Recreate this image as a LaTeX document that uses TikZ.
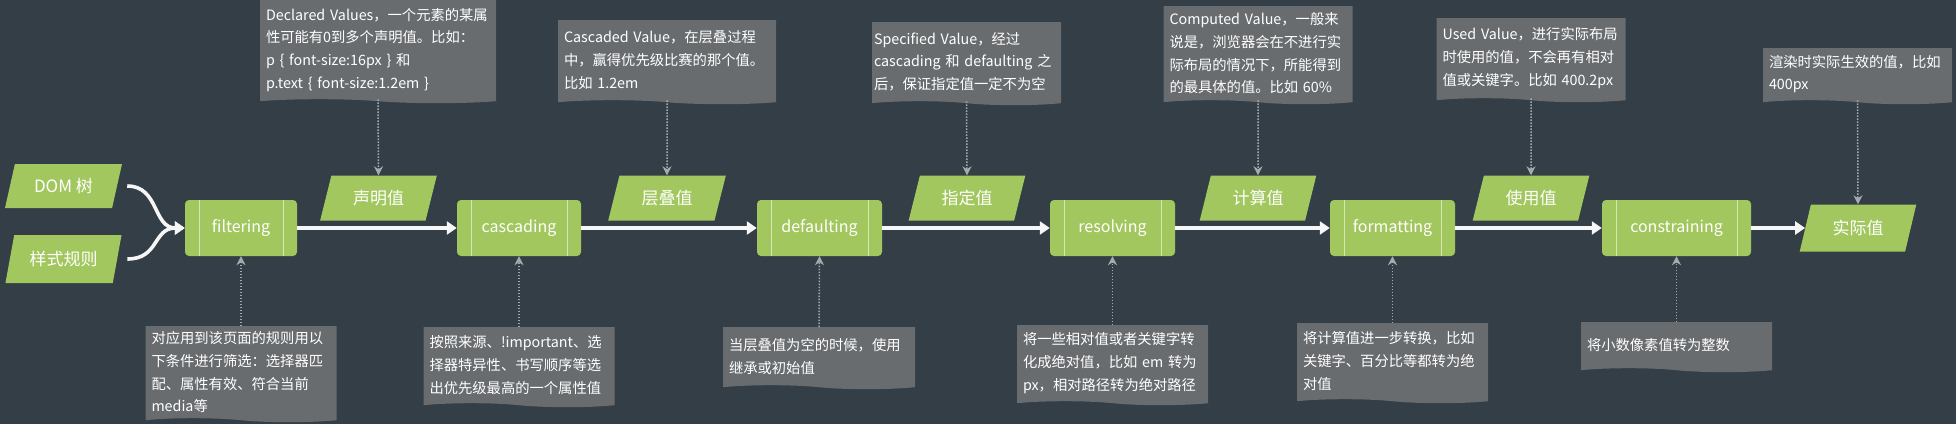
\documentclass[tikz,border=0pt]{standalone}
\usepackage{fontspec}
\setmainfont{Noto Sans CJK SC}
\usetikzlibrary{shapes.symbols,shapes.geometric,arrows.meta}
\definecolor{bg}{RGB}{51,62,71}
\definecolor{leaf}{RGB}{162,199,94}
\definecolor{note}{RGB}{105,108,111}
\definecolor{dots}{RGB}{165,170,175}
\tikzset{
  notebox/.style={shape=tape, tape bend top=none, tape bend bottom=out and in,
    tape bend height=4pt, fill=note, text=white, align=left,
    font=\fontsize{14.3}{22.7}\selectfont, inner xsep=6pt, inner ysep=3pt},
  proc/.style={rectangle, rounded corners=4pt, fill=leaf, text=white,
    font=\fontsize{16}{16}\selectfont, minimum height=56pt, inner sep=0pt,
    path picture={\draw[white!55!leaf, line width=0.8pt]
      ([xshift=14pt]path picture bounding box.north west) -- ([xshift=14pt]path picture bounding box.south west)
      ([xshift=-14pt]path picture bounding box.north east) -- ([xshift=-14pt]path picture bounding box.south east);}},
  val/.style={trapezium, trapezium left angle=69, trapezium right angle=111,
    trapezium stretches=true, fill=leaf, text=white,
    font=\fontsize{17}{17}\selectfont, minimum height=45pt, inner sep=0pt},
  flow/.style={draw=white!93!gray, line width=3.6pt, -{Triangle[length=10pt,width=13pt]}},
  hint/.style={draw=dots, line width=1.5pt, dash pattern=on 1.5pt off 1.5pt,
    -{Stealth[length=9pt,width=9pt]}}
}
\begin{document}
\begin{tikzpicture}[x=1pt,y=-1pt]
\fill[bg] (0,0) rectangle (1956,424);
\useasboundingbox (0,0) rectangle (1956,424);

% inputs
\node[val, minimum width=117pt, minimum height=44pt] (dom) at (63.5,186) {DOM 树};
\node[val, minimum width=117pt, minimum height=48pt] (css) at (63.5,259) {样式规则};

% process steps
\node[proc, minimum width=112pt] (pFilt) at (241,228) {filtering};
\node[proc, minimum width=124pt] (pCasc) at (519,228) {cascading};
\node[proc, minimum width=125pt] (pDef) at (819.5,228) {defaulting};
\node[proc, minimum width=125pt] (pRes) at (1112.5,228) {resolving};
\node[proc, minimum width=125pt] (pFmt) at (1392.5,228) {formatting};
\node[proc, minimum width=149pt] (pCon) at (1676.5,228) {constraining};

% values
\node[val, minimum width=117pt] (vDecl) at (378.5,198) {声明值};
\node[val, minimum width=118pt] (vCasc) at (667,198) {层叠值};
\node[val, minimum width=117pt] (vSpec) at (967,198) {指定值};
\node[val, minimum width=117pt] (vComp) at (1258,198) {计算值};
\node[val, minimum width=117pt] (vUsed) at (1531,198) {使用值};
\node[val, minimum width=117pt, minimum height=47pt] (vAct) at (1858,228) {实际值};

% top notes
\node[notebox, anchor=north, minimum width=236pt, text width=224pt, minimum height=103pt] (nDecl) at (378,0)
  {Declared Values，一个元素的某属\\性可能有0到多个声明值。比如：\\p \{ font-size:16px \} 和\\p.text \{ font-size:1.2em \}};
\node[notebox, anchor=north, minimum width=218pt, text width=206pt, minimum height=84pt] (nCasc) at (667,20)
  {Cascaded Value，在层叠过程\\中，赢得优先级比赛的那个值。\\比如 1.2em};
\node[notebox, anchor=north, inner xsep=2pt, minimum width=189pt, text width=185pt, minimum height=83pt] (nSpec) at (966.5,22)
  {\mbox{Specified Value，经过}\\\mbox{cascading 和 defaulting 之}\\\mbox{后，保证指定值一定不为空}};
\node[notebox, anchor=north, minimum width=189pt, text width=177pt, minimum height=98pt] (nComp) at (1258,6)
  {Computed Value，一般来\\说是，浏览器会在不进行实\\际布局的情况下，所能得到\\的最具体的值。比如 60\%};
\node[notebox, anchor=north, minimum width=189pt, text width=177pt, minimum height=84pt] (nUsed) at (1531,18)
  {Used Value，进行实际布局\\时使用的值，不会再有相对\\值或关键字。比如 400.2px};
\node[notebox, anchor=north, minimum width=189pt, text width=177pt, minimum height=56pt] (nAct) at (1857.5,48)
  {渲染时实际生效的值，比如\\400px};

% bottom notes
\node[notebox, anchor=north, minimum width=191pt, text width=179pt, minimum height=96pt] (bFilt) at (241,326)
  {对应用到该页面的规则用以\\下条件进行筛选：选择器匹\\配、属性有效、符合当前\\media等};
\node[notebox, anchor=north, minimum width=191pt, text width=179pt, minimum height=80pt] (bCasc) at (519,327)
  {按照来源、!important、选\\择器特异性、书写顺序等选\\出优先级最高的一个属性值};
\node[notebox, anchor=north, minimum width=192pt, text width=180pt, minimum height=62pt] (bDef) at (819,327)
  {当层叠值为空的时候，使用\\继承或初始值};
\node[notebox, anchor=north, minimum width=191pt, text width=179pt, minimum height=80pt] (bRes) at (1112.5,325)
  {将一些相对值或者关键字转\\化成绝对值，比如 em 转为\\px，相对路径转为绝对路径};
\node[notebox, anchor=north, minimum width=191pt, text width=179pt, minimum height=80pt] (bFmt) at (1392.5,323)
  {将计算值进一步转换，比如\\关键字、百分比等都转为绝\\对值};
\node[notebox, anchor=north, minimum width=191pt, text width=179pt, minimum height=50pt] (bCon) at (1676.5,322)
  {将小数像素值转为整数};

% flow connectors
\draw[flow] ([xshift=10pt]dom.east) .. controls +(32,0) and +(-32,0) .. (pFilt.west);
\draw[flow] ([xshift=10pt]css.east) .. controls +(32,0) and +(-32,0) .. (pFilt.west);
\draw[flow] (pFilt) -- (pCasc);
\draw[flow] (pCasc) -- (pDef);
\draw[flow] (pDef) -- (pRes);
\draw[flow] (pRes) -- (pFmt);
\draw[flow] (pFmt) -- (pCon);
\draw[flow] (pCon) -- (vAct);

% dotted hints
\draw[hint] (nDecl.south) -- (vDecl.north);
\draw[hint] (nCasc.south) -- (vCasc.north);
\draw[hint] (nSpec.south) -- (vSpec.north);
\draw[hint] (nComp.south) -- (vComp.north);
\draw[hint] (nUsed.south) -- (vUsed.north);
\draw[hint] (nAct.south) -- (vAct.north);
\draw[hint] (bFilt.north) -- (pFilt.south);
\draw[hint] (bCasc.north) -- (pCasc.south);
\draw[hint] (bDef.north) -- (pDef.south);
\draw[hint] (bRes.north) -- (pRes.south);
\draw[hint] (bFmt.north) -- (pFmt.south);
\draw[hint] (bCon.north) -- (pCon.south);
\end{tikzpicture}
\end{document}
